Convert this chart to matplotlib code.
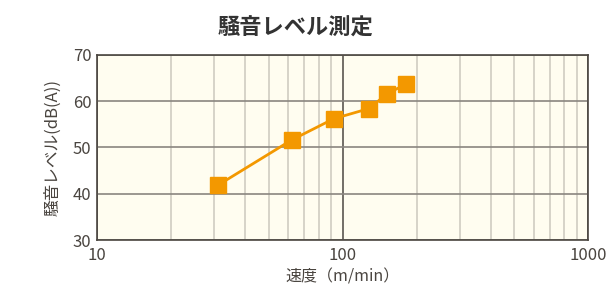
import matplotlib.pyplot as plt
from matplotlib.ticker import LogLocator, NullFormatter

plt.rcParams['font.family'] = ['Noto Sans CJK JP', 'DejaVu Sans']

speed = [31, 62, 92, 128, 152, 181]
noise = [41.8, 51.6, 56.2, 58.4, 61.6, 63.7]
x_ticks = [10, 100, 1000]
y_ticks = [30, 40, 50, 60, 70]

fig = plt.figure(figsize=(6.09, 2.92), dpi=100)
ax = fig.add_axes([0.159, 0.178, 0.807, 0.634])
ax.set_facecolor('#fffdf0')

ax.set_xscale('log')
ax.set_xlim(10, 1000)
ax.set_ylim(30, 70)
ax.set_xticks(x_ticks)
ax.set_xticklabels([str(v) for v in x_ticks])
ax.set_yticks(y_ticks)
ax.xaxis.set_minor_locator(LogLocator(base=10, subs=range(2, 10)))
ax.xaxis.set_minor_formatter(NullFormatter())

ax.grid(True, which='minor', axis='x', color='#cfccc2', lw=1.2)
ax.grid(True, which='major', axis='x', color='#5a5550', lw=1.2)
ax.grid(True, which='major', axis='y', color='#8a8680', lw=1.2)
ax.set_axisbelow(True)

ax.plot(speed, noise, color='#f39800', lw=2, marker='s', ms=12, zorder=3)

for s in ax.spines.values():
    s.set_color('#4a4540')
    s.set_linewidth(1.2)
ax.tick_params(which='both', length=0, labelsize=12, colors='#4a4540', pad=5)
ax.tick_params(axis='y', pad=4)

ax.set_xlabel('速度（m/min）', fontsize=11.5, color='#4a4540', labelpad=3)
ax.set_ylabel('騒音レベル(dB(A))', fontsize=12, color='#4a4540', labelpad=8)
fig.text(295 / 609, 1 - 28 / 292, '騒音レベル測定', fontsize=16, fontweight='bold',
         color='#333333', ha='center', va='center')

fig.savefig('out.png', dpi=100)
